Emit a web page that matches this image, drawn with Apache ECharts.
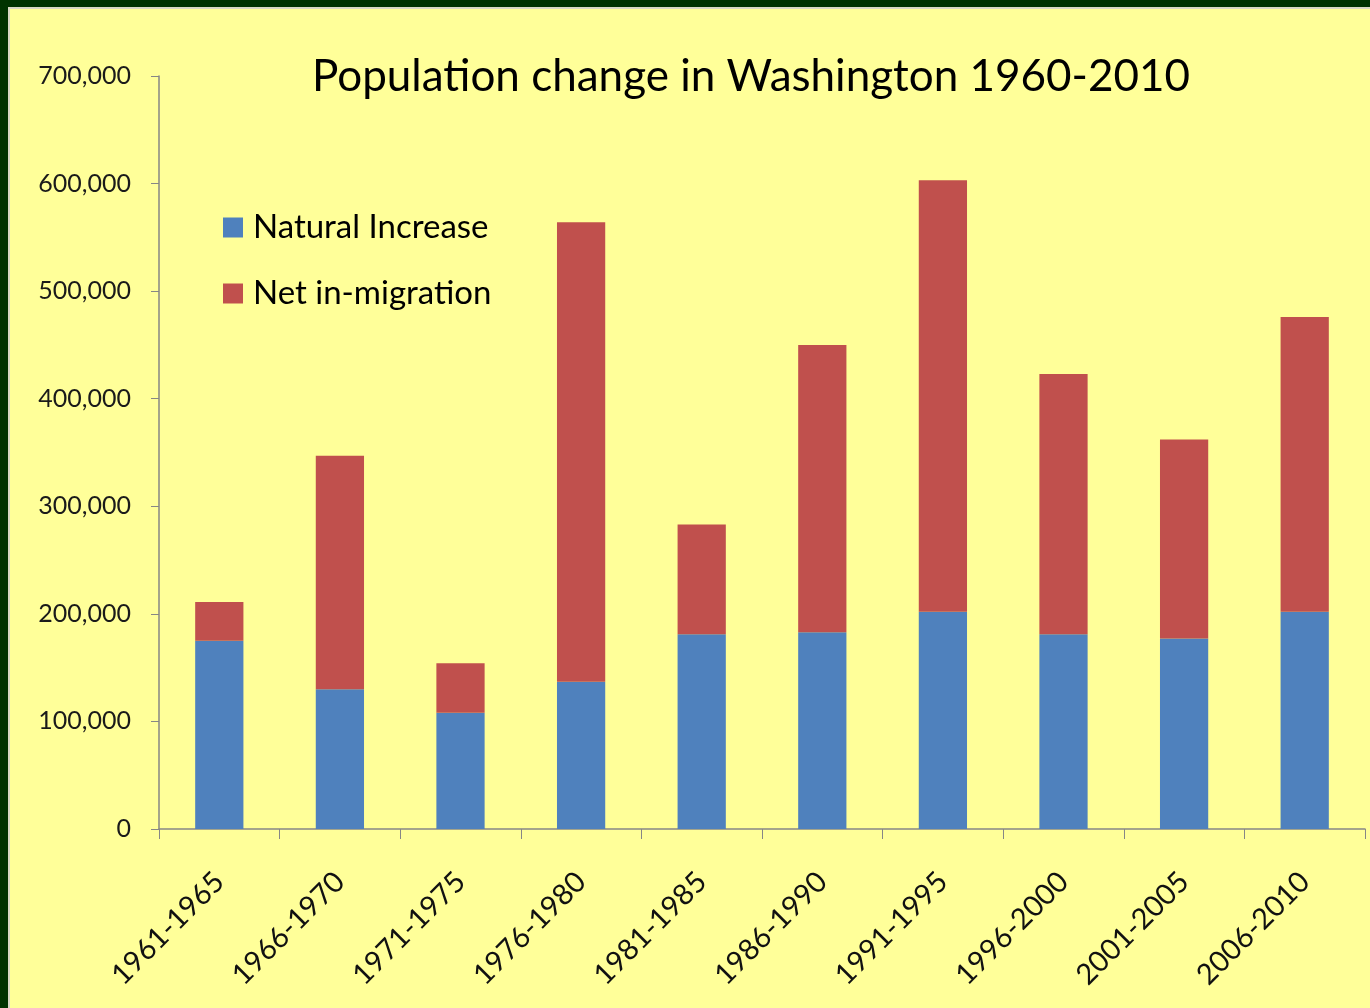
<!DOCTYPE html>
<html>
<head>
<meta charset="utf-8">
<script src="https://cdn.jsdelivr.net/npm/echarts@6/dist/echarts.min.js"></script>
<style>
  html, body { margin: 0; padding: 0; background: #003300; }
  #frame {
    position: absolute; left: 8px; top: 7px; right: 0; bottom: 0;
    border-left: 2px solid #d9d9c4; border-top: 2px solid #d9d9c4;
    background: #ffff99;
  }
  #chart { position: absolute; left: 0; top: 0; width: 1360px; height: 999px; }
</style>
</head>
<body>
<div id="frame"><div id="chart"></div></div>
<script>
  const periods = ['1961-1965', '1966-1970', '1971-1975', '1976-1980', '1981-1985',
                   '1986-1990', '1991-1995', '1996-2000', '2001-2005', '2006-2010'];
  const naturalIncrease = [175000, 130000, 108000, 137000, 181000, 183000, 202000, 181000, 177000, 202000];
  const netMigration = [36000, 217000, 46000, 427000, 102000, 267000, 401000, 242000, 185000, 274000];

  const font = 'Lato, "Open Sans", sans-serif';
  var popChart = echarts.init(document.getElementById('chart'));
  const option = {
    backgroundColor: 'transparent',
    animation: false,
    title: {
      text: 'Population change in Washington 1960-2010',
      left: 736,
      textAlign: 'center',
      top: 41,
      textStyle: { fontFamily: font, fontSize: 44, fontWeight: 'normal', color: '#000' }
    },
    legend: {
      orient: 'vertical',
      left: 208,
      top: 197,
      itemWidth: 20,
      itemHeight: 20,
      itemGap: 33,
      icon: 'rect',
      textStyle: { fontFamily: font, fontSize: 33, color: '#000', padding: [0, 0, 0, 5] },
      data: ['Natural Increase', 'Net in-migration']
    },
    grid: { left: 149, right: 5, top: 67, bottom: 179, containLabel: false },
    xAxis: {
      type: 'category',
      data: periods,
      axisLine: { lineStyle: { color: '#868686', width: 1.5 } },
      axisTick: { show: true, length: 10, lineStyle: { color: '#868686' } },
      axisLabel: { rotate: 45, margin: 48, fontFamily: font, fontSize: 29, color: '#111' }
    },
    yAxis: {
      type: 'value',
      min: 0,
      max: 700000,
      interval: 100000,
      splitLine: { show: false },
      axisLine: { show: true, lineStyle: { color: '#868686', width: 1.5 } },
      axisTick: { show: true, length: 8, lineStyle: { color: '#868686' } },
      axisLabel: {
        margin: 28, fontFamily: font, fontSize: 25, color: '#1a1a1a',
        formatter: v => v.toLocaleString('en-US')
      }
    },
    series: [
      {
        name: 'Natural Increase', type: 'bar', stack: 'total',
        barWidth: '40%', itemStyle: { color: '#4f81bd' },
        data: naturalIncrease
      },
      {
        name: 'Net in-migration', type: 'bar', stack: 'total',
        barWidth: '40%', itemStyle: { color: '#c0504d' },
        data: netMigration
      }
    ]
  };
  popChart.setOption(option);
  window.addEventListener('resize', function () {
    popChart.resize();
  });
</script>
</body>
</html>
